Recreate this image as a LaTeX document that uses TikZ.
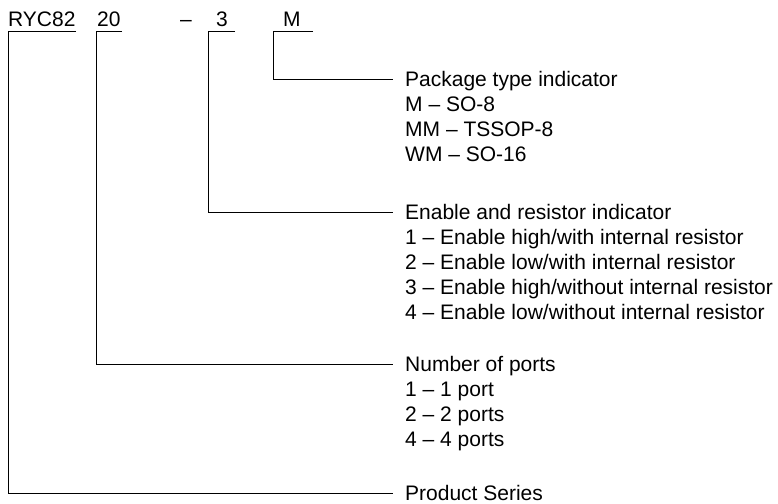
\documentclass[tikz,border=0pt]{standalone}
\usepackage{fontspec}
\setmainfont{Liberation Sans}
\begin{document}
\begin{tikzpicture}[x=1pt,y=-1pt,
  txt/.style={anchor=base west,inner sep=0pt,font=\fontsize{21}{25}\selectfont},
  conn/.style={line width=1pt,black}]
\useasboundingbox (0,0) rectangle (778,503);
% code letters
\node[txt] (ryc) at (8,27) {RYC82};
\node[txt] (ports) at (97,27) {20};
\node[txt] (dash) at (180,27) {–};
\node[txt] (en) at (216,27) {3};
\node[txt] (pk) at (283,27) {M};
% underline end points
\coordinate (rycL) at (8,32);  \coordinate (rycR) at (76,32);
\coordinate (portsL) at (96,32); \coordinate (portsR) at (122,32);
\coordinate (enL) at (208,32); \coordinate (enR) at (235,32);
\coordinate (pkL) at (273,32); \coordinate (pkR) at (313,32);
% package block
\node[txt] (pkh) at (405,86) {Package type indicator};
\node[txt] (pk1) at (405,111) {M – SO-8};
\node[txt] (pk2) at (405,136) {MM – TSSOP-8};
\node[txt] (pk3) at (405,161) {WM – SO-16};
% enable block
\node[txt] (enh) at (405,219) {Enable and resistor indicator};
\node[txt] (en1) at (405,244) {1 – Enable high/with internal resistor};
\node[txt] (en2) at (405,269) {2 – Enable low/with internal resistor};
\node[txt] (en3) at (405,294) {3 – Enable high/without internal resistor};
\node[txt] (en4) at (405,319) {4 – Enable low/without internal resistor};
% ports block
\node[txt] (poh) at (405,371) {Number of ports};
\node[txt] (po1) at (405,396) {1 – 1 port};
\node[txt] (po2) at (405,421) {2 – 2 ports};
\node[txt] (po3) at (405,446) {4 – 4 ports};
% product
\node[txt] (prh) at (405,500) {Product Series};
% end points of leaders
\coordinate (pkE) at (393,79);
\coordinate (enE) at (393,212);
\coordinate (poE) at (393,364);
\coordinate (prE) at (393,493);
% connectors
\draw[conn] (pkR) -- (pkL) |- (pkE);
\draw[conn] (enR) -- (enL) |- (enE);
\draw[conn] (portsR) -- (portsL) |- (poE);
\draw[conn] (rycR) -- (rycL) |- (prE);
\end{tikzpicture}
\end{document}
